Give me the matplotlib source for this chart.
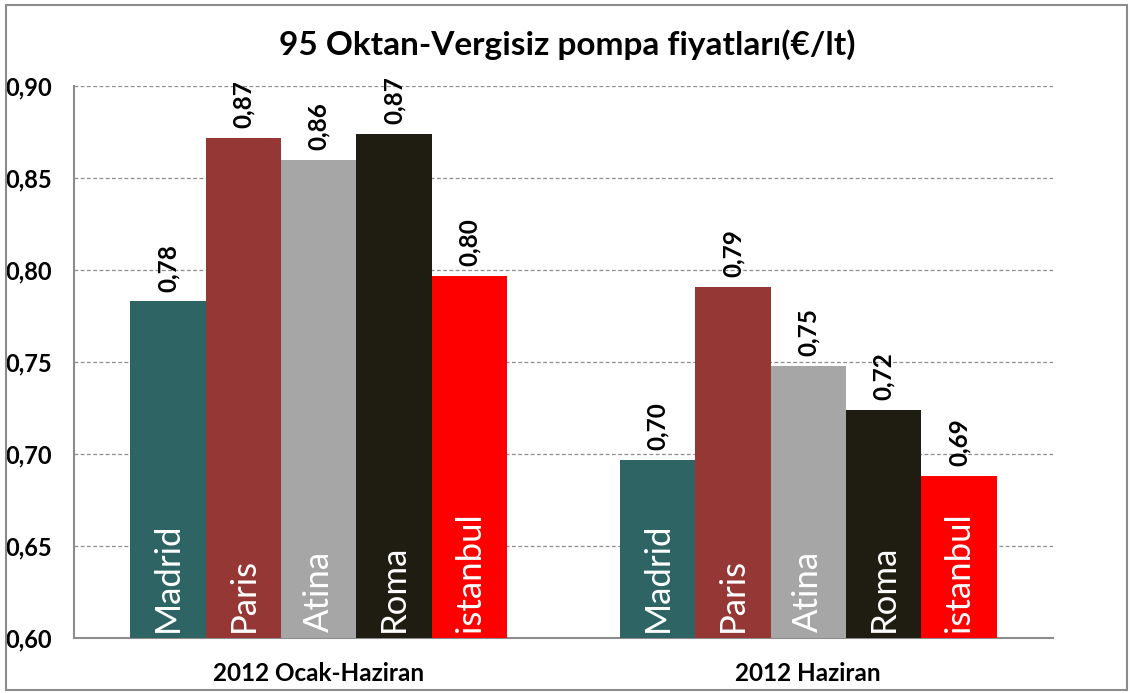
import numpy as np
import matplotlib
matplotlib.use("Agg")
import matplotlib.pyplot as plt
from matplotlib.patches import Rectangle

plt.rcParams['font.family'] = ['Lato', 'DejaVu Sans']

#%% Data
periods = ["2012 Ocak-Haziran", "2012 Haziran"]
cities = ["Madrid", "Paris", "Atina", "Roma", "istanbul"]
prices = {
    "Madrid":   [0.783, 0.697],
    "Paris":    [0.872, 0.791],
    "Atina":    [0.860, 0.748],
    "Roma":     [0.874, 0.724],
    "istanbul": [0.797, 0.688],
}
colors = ["#2E6464", "#953735", "#A6A6A6", "#1F1C12", "#FF0000"]
yticks = [0.60, 0.65, 0.70, 0.75, 0.80, 0.85, 0.90]
title = "95 Oktan-Vergisiz pompa fiyatları(€/lt)"

#%% Plot
fig = plt.figure(figsize=(11.3, 6.93), dpi=100)
ax = fig.add_axes([0.0655, 0.0794, 0.8664, 0.7965])

x = np.arange(len(periods))
w = 0.154
for i, city in enumerate(cities):
    xs = x + (i - 2) * w
    ax.bar(xs, prices[city], w, color=colors[i], zorder=3)
    for xi, v in zip(xs, prices[city]):
        # value label above the bar
        ax.annotate(f"{v:.2f}".replace(".", ","), (xi, v), xytext=(0, 7),
                    textcoords="offset points", rotation=90, ha="center",
                    va="bottom", fontsize=17.5, fontweight="bold")
        # city name inside the bar
        ax.annotate(city, (xi, 0.60), xytext=(0, 4), textcoords="offset points",
                    rotation=90, ha="center", va="bottom", fontsize=25,
                    color="white", zorder=4)

ax.set_xlim(-0.5, 1.5)
ax.set_ylim(0.60, 0.90)
ax.set_yticks(yticks)
ax.set_yticklabels([f"{t:.2f}".replace(".", ",") for t in yticks],
                   fontsize=17, fontweight="bold")
ax.set_xticks(x)
ax.set_xticklabels(periods, fontsize=17.5, fontweight="bold")
ax.tick_params(axis="both", length=0)
ax.tick_params(axis="y", pad=16)
ax.tick_params(axis="x", pad=17)

ax.grid(axis="y", color="#8C8C8C", linestyle=(0, (3, 2)), linewidth=0.9, zorder=0)
for s in ["top", "right"]:
    ax.spines[s].set_visible(False)
for s in ["left", "bottom"]:
    ax.spines[s].set_color("#8C8C8C")
    ax.spines[s].set_linewidth(1.5)

fig.text(0.502, 1 - 45 / 693, title, ha="center", va="center",
         fontsize=24, fontweight="bold")

# outer chart border
fig.patches.append(Rectangle((6 / 1130, 3 / 693), 1121 / 1130, 685 / 693,
                             transform=fig.transFigure, fill=False,
                             edgecolor="#8C8C8C", linewidth=1.5))

fig.savefig("out.png", dpi=100)
